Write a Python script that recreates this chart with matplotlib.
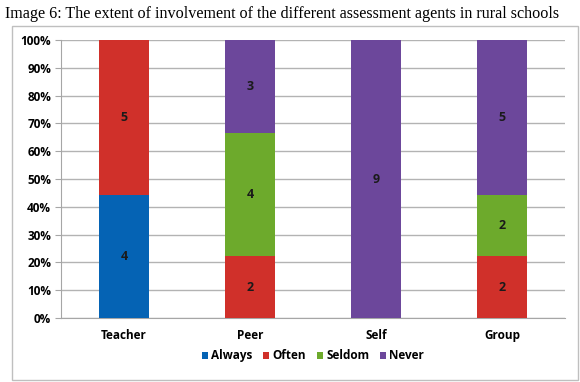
import numpy as np
import matplotlib.pyplot as plt
from matplotlib.patches import Rectangle
from matplotlib.ticker import PercentFormatter

# Data
agents = ['Teacher', 'Peer', 'Self', 'Group']
series = ['Always', 'Often', 'Seldom', 'Never']
always = [4, 0, 0, 0]
often = [5, 2, 0, 2]
seldom = [0, 4, 0, 2]
never = [0, 3, 9, 5]
colors = ['#0563B4', '#D0302A', '#6DAA2C', '#6C479B']

counts = np.array([always, often, seldom, never], dtype=float)
totals = counts.sum(axis=0)
shares = counts / totals * 100

FONT = 'Open Sans'

fig = plt.figure(figsize=(5.8, 3.82), dpi=100)
fig.text(0.008, 0.985, 'Image 6: The extent of involvement of the different assessment agents in rural schools',
         family='Liberation Serif', fontsize=11.6, va='top', ha='left')

# chart frame
fig.patches.append(Rectangle((0.021, 0.005), 0.975, 0.927, transform=fig.transFigure,
                             fill=False, edgecolor='#BFBFBF', linewidth=1.0))

ax = fig.add_axes([0.105, 0.1675, 0.869, 0.7275])
x = np.arange(len(agents))
bottom = np.zeros(len(agents))
for name, vals, pct, c in zip(series, counts, shares, colors):
    ax.bar(x, pct, bottom=bottom, width=0.4, color=c, label=name, zorder=3)
    for xi, v, p, b in zip(x, vals, pct, bottom):
        if v > 0:
            ax.text(xi, b + p / 2, f'{int(v)}', ha='center', va='center',
                    family=FONT, fontweight='bold', fontsize=9, color='#1A1A1A', zorder=4)
    bottom += pct

ax.set_xlim(-0.5, len(agents) - 0.5)
ax.set_ylim(0, 100)
ax.set_yticks(np.arange(0, 101, 10))
ax.yaxis.set_major_formatter(PercentFormatter(decimals=0))
ax.set_xticks(x)
ax.set_xticklabels(agents)
ax.grid(axis='y', color='#B3B3B3', linewidth=1.0, zorder=0)
for s in ['top', 'right']:
    ax.spines[s].set_visible(False)
for s in ['left', 'bottom']:
    ax.spines[s].set_color('#A6A6A6')
ax.tick_params(axis='y', length=4, color='#A6A6A6', labelsize=8.5, pad=3)
ax.tick_params(axis='x', length=0, labelsize=8.5, pad=8)
for lbl in ax.get_xticklabels() + ax.get_yticklabels():
    lbl.set_family(FONT)
    lbl.set_fontweight('bold')

ax.legend(loc='upper center', bbox_to_anchor=(0.5, -0.075), ncol=4, frameon=False,
          handlelength=0.5, handleheight=0.5, handletextpad=0.3, columnspacing=0.9,
          prop={'family': FONT, 'weight': 'bold', 'size': 8.5})

fig.savefig('out.png', dpi=100)
